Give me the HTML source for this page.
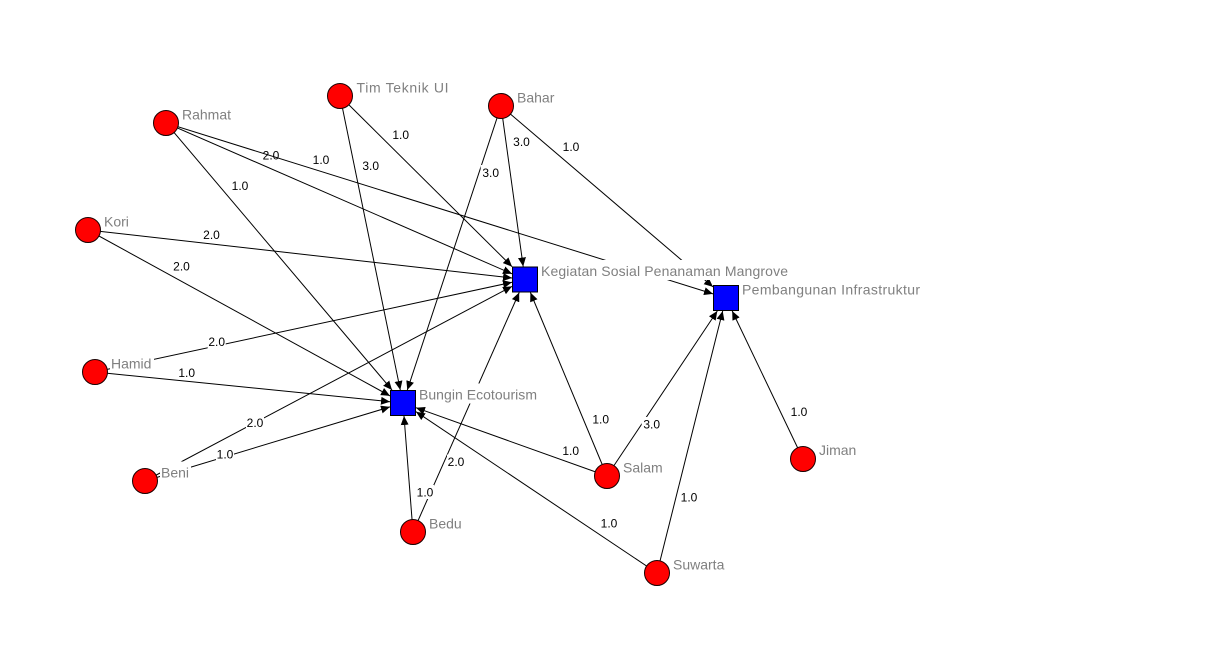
<!DOCTYPE html>
<html><head><meta charset="utf-8"><style>
html,body{margin:0;padding:0;background:#fff;}
svg{display:block;}
.n{font-family:"Liberation Sans",sans-serif;font-size:14px;fill:#808080;}
.e{font-family:"Liberation Sans",sans-serif;font-size:12px;fill:#000;text-anchor:middle;}
</style></head><body>
<svg width="1224" height="660" viewBox="0 0 1224 660" xmlns="http://www.w3.org/2000/svg">
<defs>
<marker id="a" markerWidth="9" markerHeight="8" refX="9" refY="4" orient="auto" markerUnits="userSpaceOnUse"><path d="M0,0 L9,4 L0,8 z" fill="#000"/></marker>
</defs>
<rect width="1224" height="660" fill="#fff"/>
<g stroke="#000" stroke-width="1" fill="none" marker-end="url(#a)">
<line x1="340" y1="96" x2="400.3" y2="390"/>
<line x1="340" y1="96" x2="512" y2="266.6"/>
<line x1="166" y1="123" x2="392" y2="390"/>
<line x1="166" y1="123" x2="512" y2="273.8"/>
<line x1="501" y1="106" x2="407.3" y2="390"/>
<line x1="501" y1="106" x2="523.2" y2="266.5"/>
<line x1="501" y1="106" x2="713" y2="286.9"/>
<line x1="88" y1="230" x2="512" y2="278"/>
<line x1="88" y1="230" x2="390" y2="395.9"/>
<line x1="95" y1="372" x2="512" y2="282.3"/>
<line x1="95" y1="372" x2="390" y2="401.7"/>
<line x1="145" y1="481" x2="512" y2="286.4"/>
<line x1="145" y1="481" x2="390" y2="406.9"/>
<line x1="413" y1="532" x2="404" y2="416"/>
<line x1="413" y1="532" x2="519.2" y2="292.5"/>
<line x1="607" y1="476" x2="530.4" y2="292.5"/>
<line x1="607" y1="476" x2="416" y2="407.7"/>
<line x1="607" y1="476" x2="717.3" y2="311"/>
<line x1="657" y1="573" x2="416" y2="411.7"/>
<line x1="657" y1="573" x2="722.7" y2="311"/>
<line x1="803" y1="459" x2="732.2" y2="311"/>
</g>
<text class="e" x="271" y="159.3">2.0</text>
<line x1="166" y1="123" x2="713" y2="293.9" stroke="#000" stroke-width="1" marker-end="url(#a)"/>

<g fill="#fff">
<rect x="391" y="127" width="20" height="14"/>
<rect x="361" y="158" width="20" height="14"/>
<rect x="311" y="152" width="20" height="14"/>
<rect x="230" y="178" width="20" height="14"/>
<rect x="511.5" y="134" width="20" height="14"/>
<rect x="480.7" y="165" width="20" height="14"/>
<rect x="561" y="139" width="20" height="14"/>
<rect x="201.5" y="227" width="20" height="14"/>
<rect x="171.5" y="258.5" width="20" height="14"/>
<rect x="207.7" y="334.5" width="18" height="14"/>
<rect x="176.7" y="365.5" width="20" height="14"/>
<rect x="246" y="415.5" width="18" height="14"/>
<rect x="216" y="447" width="18" height="14"/>
<rect x="447" y="454.5" width="18" height="14"/>
<rect x="416" y="485" width="18" height="14"/>
<rect x="590.7" y="412" width="20" height="14"/>
<rect x="560.7" y="443.5" width="20" height="14"/>
<rect x="641.7" y="417" width="20" height="14"/>
<rect x="679" y="490" width="20" height="14"/>
<rect x="599" y="516" width="20" height="14"/>
<rect x="789" y="404.5" width="20" height="14"/>
</g>
<text class="e" x="400.7" y="138.8">1.0</text>
<text class="e" x="370.7" y="169.8">3.0</text>
<text class="e" x="321" y="163.8">1.0</text>
<text class="e" x="240" y="189.8">1.0</text>
<text class="e" x="521.5" y="145.8">3.0</text>
<text class="e" x="490.7" y="176.8">3.0</text>
<text class="e" x="571" y="150.8">1.0</text>
<text class="e" x="211.5" y="238.8">2.0</text>
<text class="e" x="181.5" y="270.3">2.0</text>
<text class="e" x="216.7" y="346">2.0</text>
<text class="e" x="186.7" y="377">1.0</text>
<text class="e" x="255" y="427">2.0</text>
<text class="e" x="225" y="458.6">1.0</text>
<text class="e" x="456" y="466">2.0</text>
<text class="e" x="425" y="496.6">1.0</text>
<text class="e" x="600.7" y="423.6">1.0</text>
<text class="e" x="570.7" y="455">1.0</text>
<text class="e" x="651.7" y="428.3">3.0</text>
<text class="e" x="689" y="501.6">1.0</text>
<text class="e" x="609" y="527.6">1.0</text>
<text class="e" x="799" y="416">1.0</text>

<g fill="#fff">
<rect x="355" y="77" width="95" height="20"/>
<rect x="181" y="104" width="49" height="20"/>
<rect x="516" y="87" width="41" height="20"/>
<rect x="103" y="211" width="29" height="20"/>
<rect x="540" y="260" width="250" height="20"/>
<rect x="741" y="278.5" width="182" height="20"/>
<rect x="418" y="383.5" width="121" height="20"/>
<rect x="110" y="352.5" width="44" height="20"/>
<rect x="160" y="461.5" width="31" height="20"/>
<rect x="428" y="512.5" width="36" height="20"/>
<rect x="622" y="456.5" width="43" height="20"/>
<rect x="818" y="439.5" width="39" height="20"/>
<rect x="672" y="553.5" width="55" height="20"/>
</g>
<text class="n" x="356.5" y="92.5" textLength="92">Tim Teknik UI</text>
<text class="n" x="182" y="119.5">Rahmat</text>
<text class="n" x="517" y="102.5">Bahar</text>
<text class="n" x="104" y="226.5">Kori</text>
<text class="n" x="541" y="276" textLength="247">Kegiatan Sosial Penanaman Mangrove</text>
<text class="n" x="742" y="294.5" textLength="178">Pembangunan Infrastruktur</text>
<text class="n" x="419" y="399.5" textLength="118">Bungin Ecotourism</text>
<text class="n" x="111" y="368.5">Hamid</text>
<text class="n" x="161" y="477.5">Beni</text>
<text class="n" x="429" y="528.5">Bedu</text>
<text class="n" x="623" y="472.5">Salam</text>
<text class="n" x="819" y="455">Jiman</text>
<text class="n" x="673" y="569.5">Suwarta</text>

<g fill="#ff0000" stroke="#1a0000" stroke-width="1">
<circle cx="340" cy="96" r="12.5"/>
<circle cx="166" cy="123" r="12.5"/>
<circle cx="501" cy="106" r="12.5"/>
<circle cx="88" cy="230" r="12.5"/>
<circle cx="95" cy="372" r="12.5"/>
<circle cx="145" cy="481" r="12.5"/>
<circle cx="413" cy="532" r="12.5"/>
<circle cx="607" cy="476" r="12.5"/>
<circle cx="803" cy="459" r="12.5"/>
<circle cx="657" cy="573" r="12.5"/>
</g>
<g fill="#0000ff" stroke="#000" stroke-width="1">
<rect x="512.5" y="267" width="25" height="25"/>
<rect x="390.5" y="390.5" width="25" height="25"/>
<rect x="713.5" y="285.5" width="25" height="25"/>
</g>
</svg>
</body></html>
